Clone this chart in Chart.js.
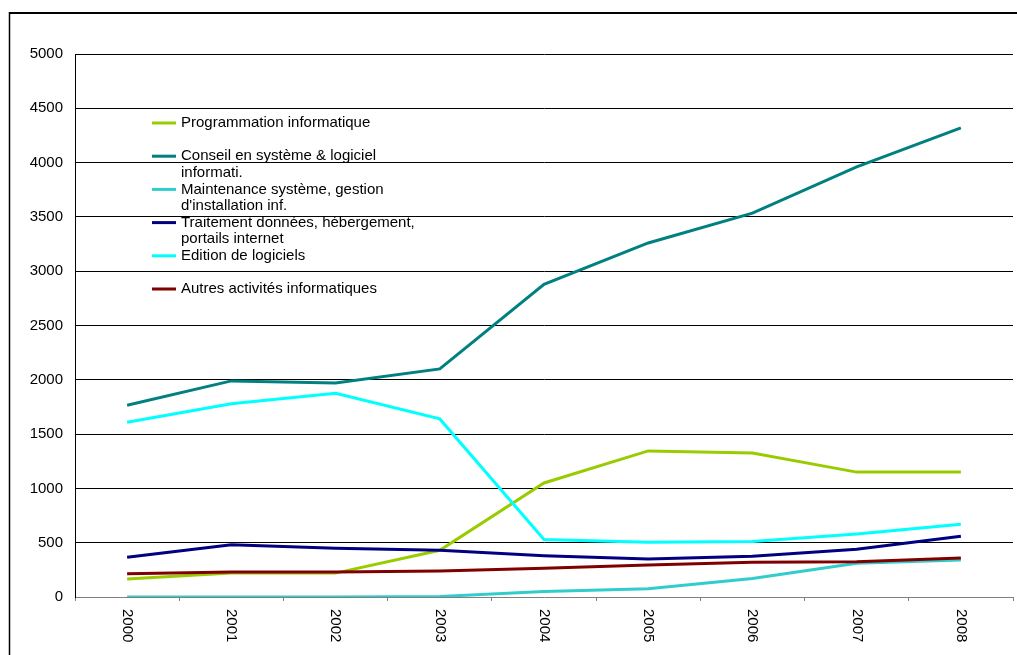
<!DOCTYPE html>
<html>
<head>
<meta charset="utf-8">
<script src="https://cdn.jsdelivr.net/npm/chart.js@4/dist/chart.umd.min.js"></script>
<style>
  html, body { margin: 0; padding: 0; background: #fff; }
  #chart { display: block; }
</style>
</head>
<body>
<canvas id="chart" width="1017" height="655"></canvas>
<script>
// =======================================
// DATA
// =======================================
const years = ["2000", "2001", "2002", "2003", "2004", "2005", "2006", "2007", "2008"];

const programmation = [165, 220, 220, 430, 1050, 1345, 1325, 1150, 1150];
const conseil = [1765, 1990, 1970, 2100, 2880, 3260, 3535, 3960, 4320];
const maintenance = [0, 0, 0, 5, 50, 75, 170, 310, 340];
const traitement = [365, 480, 450, 430, 380, 350, 375, 440, 560];
const edition = [1610, 1780, 1875, 1640, 530, 505, 510, 580, 670];
const autres = [215, 230, 230, 240, 265, 295, 320, 325, 360];

const seriesNames = [
  "Programmation informatique",
  "Conseil en système & logiciel\ninformati.",
  "Maintenance système, gestion\nd'installation inf.",
  "Traitement données, hébergement,\nportails internet",
  "Edition de logiciels",
  "Autres activités informatiques",
];
const seriesColors = ["#99cc00", "#008080", "#33cccc", "#000080", "#00ffff", "#800000"];
const seriesValues = [programmation, conseil, maintenance, traitement, edition, autres];

const FONT = "Arial, 'Liberation Sans', sans-serif";

// =======================================
// PLUGINS
// =======================================
// outer frame of the picture
const framePlugin = {
  id: "frame",
  beforeDraw(chart) {
    const ctx = chart.ctx;
    ctx.save();
    ctx.fillStyle = "#fff";
    ctx.fillRect(0, 0, chart.width, chart.height);
    ctx.strokeStyle = "#000";
    ctx.lineWidth = 2;
    ctx.beginPath();
    ctx.moveTo(9, 13);
    ctx.lineTo(chart.width, 13);
    ctx.stroke();
    ctx.lineWidth = 1.5;
    ctx.beginPath();
    ctx.moveTo(9.5, 12);
    ctx.lineTo(9.5, chart.height);
    ctx.stroke();
    ctx.restore();
  },
};

// x labels reading top to bottom, and the legend inside the plot
const labelsPlugin = {
  id: "labels",
  afterDraw(chart) {
    const ctx = chart.ctx;
    const xScale = chart.scales.x;
    ctx.save();
    ctx.fillStyle = "#000";
    ctx.font = "15px " + FONT;
    ctx.textAlign = "left";
    ctx.textBaseline = "middle";
    years.forEach((yr, i) => {
      const x = xScale.getPixelForTick(i);
      ctx.save();
      ctx.translate(x, xScale.bottom - 46);
      ctx.rotate(Math.PI / 2);
      ctx.fillText(yr, 0, 0);
      ctx.restore();
    });

    // legend
    const lx = 152;
    let ly = 123;
    chart.data.datasets.forEach((ds) => {
      ctx.strokeStyle = ds.borderColor;
      ctx.lineWidth = 3;
      ctx.beginPath();
      ctx.moveTo(lx, ly);
      ctx.lineTo(lx + 24, ly);
      ctx.stroke();
      ds.label.split("\n").forEach((line, k) => {
        ctx.fillText(line, lx + 29, ly + k * 16.5);
      });
      ly += 33.2;
    });
    ctx.restore();
  },
};

// =======================================
// CHART
// =======================================
const datasets = seriesNames.map((name, i) => ({
  label: name,
  data: seriesValues[i],
  borderColor: seriesColors[i],
  backgroundColor: seriesColors[i],
  borderWidth: 3,
  pointRadius: 0,
  tension: 0,
  fill: false,
  order: seriesNames.length - i,
}));

new Chart(document.getElementById("chart"), {
  type: "line",
  data: { labels: years, datasets: datasets },
  options: {
    responsive: false,
    animation: false,
    layout: { padding: { left: 0, top: 54, right: 4, bottom: 0 } },
    plugins: { legend: { display: false }, tooltip: { enabled: false } },
    scales: {
      x: {
        offset: true,
        grid: {
          offset: true,
          drawOnChartArea: false,
          drawTicks: true,
          tickLength: 4,
          color: "#808080",
        },
        border: { color: "#808080", width: 1 },
        ticks: { display: false },
        afterFit: (scale) => { scale.height = 58; },
      },
      y: {
        min: 0,
        max: 5000,
        ticks: {
          stepSize: 500,
          color: "#000",
          padding: 12,
          font: { family: FONT, size: 15 },
          callback: (v) => String(v),
        },
        grid: {
          drawTicks: false,
          color: (c) => (c.tick && c.tick.value === 0 ? "rgba(0,0,0,0)" : "#000"),
          lineWidth: 1,
        },
        border: { color: "#000", width: 1 },
        afterFit: (scale) => { scale.width = 75; },
      },
    },
  },
  plugins: [framePlugin, labelsPlugin],
});
</script>
</body>
</html>
